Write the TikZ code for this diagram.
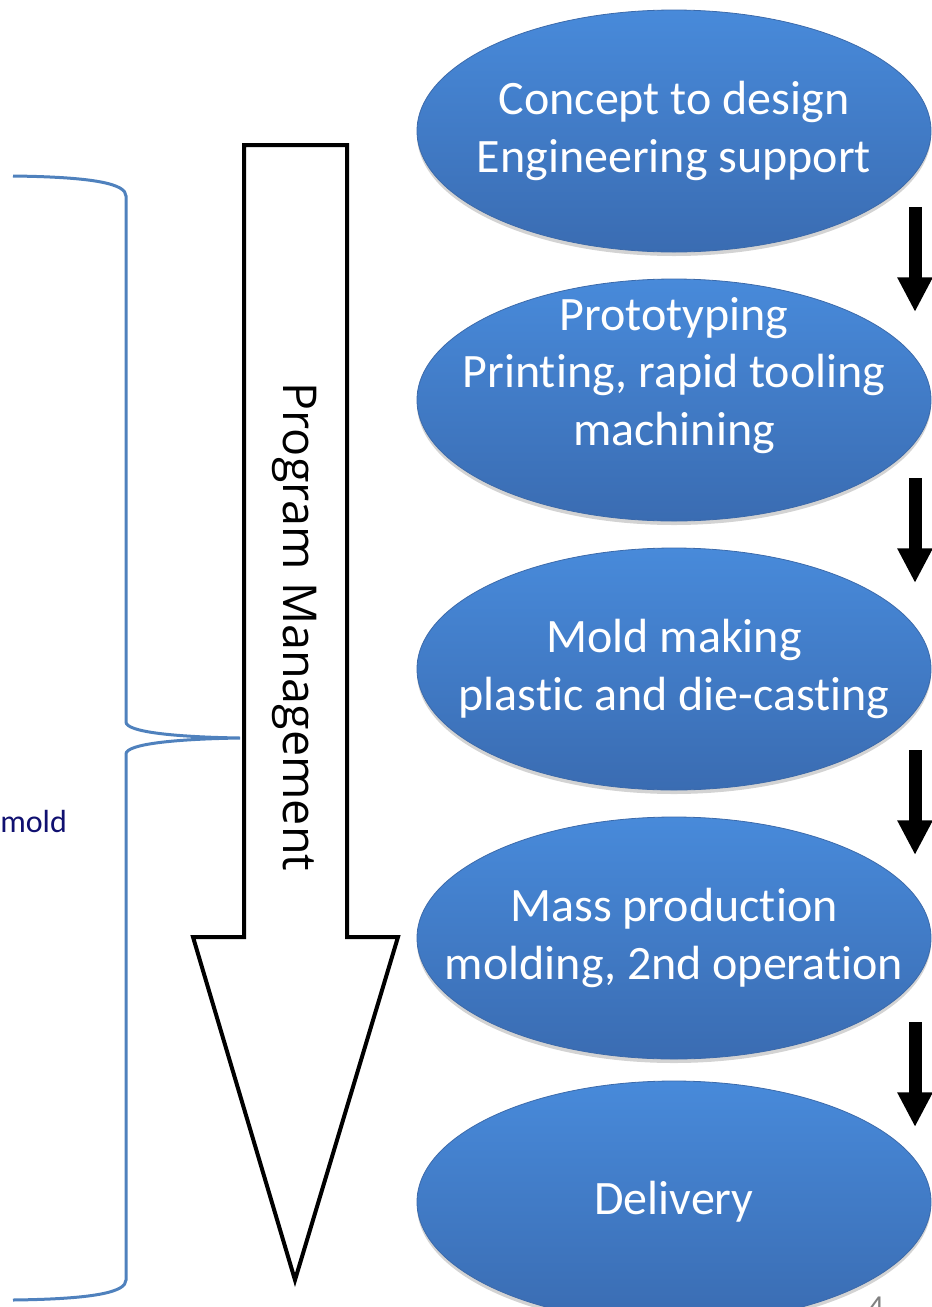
\documentclass[tikz,border=0pt]{standalone}
\usepackage{fontspec}
\setmainfont{Carlito}[Ligatures=NoCommon]
\newfontfamily\pmfont{Open Sans}
\usetikzlibrary{shapes,arrows.meta,shadows,calc}

\definecolor{stagetop}{RGB}{72,138,218}
\definecolor{stagebot}{RGB}{58,108,178}
\definecolor{stageedge}{RGB}{60,106,170}
\definecolor{braceblue}{RGB}{79,129,189}
\definecolor{navytext}{RGB}{16,16,112}

\begin{document}
\begin{tikzpicture}[x=0.75pt,y=-0.75pt,
	stage/.style={ellipse, minimum width=385.5pt, minimum height=181.5pt,
		inner xsep=-50pt, inner ysep=-40pt,
		align=center, text=white, draw=stageedge, line width=0.6pt,
		top color=stagetop, bottom color=stagebot,
		drop shadow={shadow xshift=0pt, shadow yshift=-3pt, opacity=0.35},
		font=\fontsize{36}{43}\selectfont},
	flow/.style={line width=9.75pt, -{Triangle[width=24.75pt,length=26pt]}},
	brace/.style={draw=braceblue, line width=2.25pt}]
	\useasboundingbox (0,0) rectangle (932,1307);
	
	% stages
	\node[stage] (s1) at (674,131) {Concept to design\\Engineering support};
	\node[stage] (s2) at (674,400) {Prototyping\\Printing, rapid tooling\\machining\\~};
	\node[stage] (s3) at (674,669) {Mold making\\plastic and die-casting};
	\node[stage] (s4) at (674,938) {Mass production\\molding, 2nd operation};
	\node[stage] (s5) at (674,1202) {Delivery};
	
	% arrows between stages
	\coordinate (a1) at (915,207);
	\coordinate (b1) at (915,312);
	\coordinate (a2) at (915,478);
	\coordinate (b2) at (915,583);
	\coordinate (a3) at (915,750);
	\coordinate (b3) at (915,855);
	\coordinate (a4) at (915,1022);
	\coordinate (b4) at (915,1127);
	\draw[flow] (a1) -- (b1);
	\draw[flow] (a2) -- (b2);
	\draw[flow] (a3) -- (b3);
	\draw[flow] (a4) -- (b4);
	
	% program management arrow
	\draw[line width=3pt, line join=miter, fill=white]
		(244,145) -- (347,145) -- (347,937) -- (398,937) -- (295,1280)
		-- (193,937) -- (244,937) -- cycle;
	\node[rotate=-90, font=\pmfont\fontsize{35}{42}\selectfont] (pm) at (295,627) {Program Management};
	
	% brace
	\coordinate (bt) at (240,738);
	\draw[brace] (13,176) .. controls (95,177) and (126,184) .. (126,196)
		-- (126,722) .. controls (126,732) and (175,737) .. (bt)
		.. controls (175,739) and (126,744) .. (126,754)
		-- (126,1280) .. controls (126,1292) and (95,1299) .. (13,1300);
	
	\node[anchor=base west, inner sep=0pt, text=navytext, font=\fontsize{24}{29}\selectfont] (mold) at (0,832) {mold};
	
	% page number
	\node[anchor=north, inner sep=0pt, text=gray, font=\fontsize{24}{29}\selectfont] (pg) at (876,1297) {4};
\end{tikzpicture}
\end{document}
